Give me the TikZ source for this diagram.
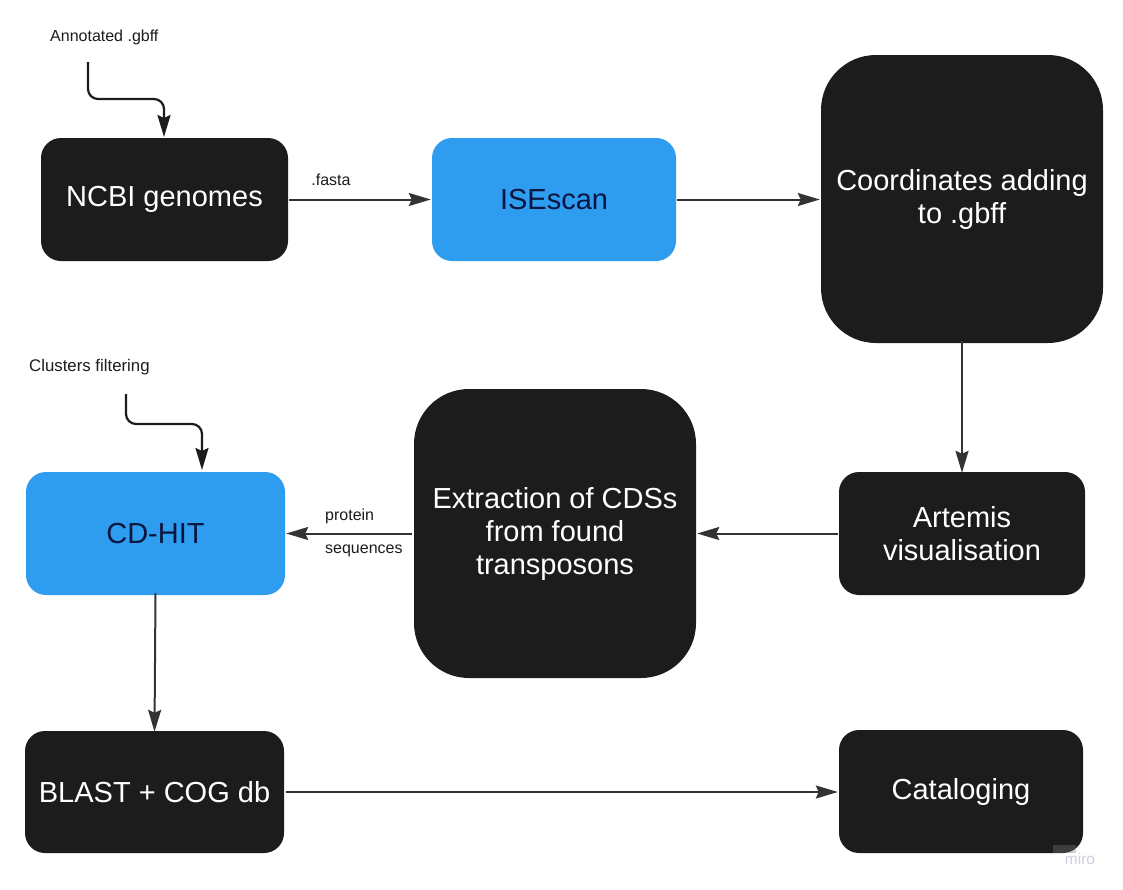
\documentclass[tikz,border=0pt]{standalone}
\usepackage{fontspec}
\setmainfont{Liberation Sans}
\usetikzlibrary{arrows.meta}
\definecolor{boxblack}{HTML}{1C1C1C}
\definecolor{boxblue}{HTML}{2E9CEF}
\definecolor{navytext}{HTML}{0B1640}
\definecolor{arrowgrey}{HTML}{333333}
\definecolor{mirogrey}{HTML}{CFCFDB}
\tikzset{
  blackbox/.style={fill=boxblack, text=white, rounded corners=20pt, inner sep=0pt,
    font=\fontsize{29}{33}\selectfont, align=center},
  bluebox/.style={fill=boxblue, text=navytext, rounded corners=20pt, inner sep=0pt,
    font=\fontsize{29}{33}\selectfont, align=center},
  bigbox/.style={blackbox, rounded corners=55pt},
  flow/.style={draw=arrowgrey, line width=2pt, -{Stealth[length=22pt,width=13pt,inset=3pt]}},
  feed/.style={draw=boxblack, line width=2.2pt, rounded corners=10pt, -{Stealth[length=22pt,width=13pt,inset=3pt]}},
  lbl/.style={font=\fontsize{16}{19}\selectfont, text=boxblack, inner sep=0pt}
}
\begin{document}
\begin{tikzpicture}[x=1pt,y=-1pt]
\useasboundingbox (0,0) rectangle (1123,889);
\fill[white] (0,0) rectangle (1123,889);
% boxes
\node[blackbox, minimum width=247pt, minimum height=123pt] (ncbi) at (164.5,199.5) {\raisebox{2pt}{NCBI genomes}};
\node[bluebox, minimum width=244pt, minimum height=123pt] (isescan) at (554,199.5) {ISEscan};
\node[bigbox, minimum width=282pt, minimum height=288pt] (coord) at (962,199) {Coordinates adding\\to .gbff};
\node[blackbox, minimum width=246pt, minimum height=123pt] (artemis) at (962,533.5) {Artemis\\visualisation};
\node[bigbox, minimum width=282pt, minimum height=289pt] (extract) at (555,533.5) {Extraction of CDSs\\from found\\transposons};
\node[bluebox, minimum width=259pt, minimum height=123pt] (cdhit) at (155.5,533.5) {CD-HIT};
\node[blackbox, minimum width=259pt, minimum height=122pt] (blast) at (154.5,792) {BLAST + COG db};
\node[blackbox, minimum width=244pt, minimum height=123pt] (catalog) at (961,791.5) {Cataloging};
% watermark
\fill[gray, opacity=0.35] (1053,845) rectangle (1076,853);
\node[font=\fontsize{15.5}{17}\selectfont, text=mirogrey, inner sep=0pt] (miro) at (1080,859) {miro};
% labels
\node[lbl, anchor=west] (annot) at (50,37) {Annotated .gbff};
\node[lbl, anchor=west, font=\fontsize{16.8}{19}\selectfont] (clusters) at (29,367) {Clusters filtering};
\node[lbl] (fasta) at (331,180) {.fasta};
\node[lbl, anchor=west] (protein) at (325,516) {protein};
\node[lbl, anchor=west] (sequences) at (325,551) {sequences};
% feed arrows
\coordinate (s1) at (88,62);
\coordinate (s2) at (126,394);
\draw[feed] (s1) -- (88,99) -- (164,99) -- (164,137);
\draw[feed] (s2) -- (126,424) -- (202,424) -- (202,470);
% flow arrows
\draw[flow] ([xshift=1pt]ncbi.east) -- ([xshift=-1pt]ncbi.east -| isescan.west);
\draw[flow] ([xshift=1pt]isescan.east) -- ([xshift=-1pt]isescan.east -| coord.west);
\draw[flow] ([yshift=2pt]coord.south) -- ([yshift=-1pt]artemis.north);
\draw[flow] ([xshift=-1pt]artemis.west) -- ([xshift=1pt]extract.east);
\draw[flow] ([xshift=-2pt]extract.west) -- ([xshift=1pt]cdhit.east);
\draw[flow] ([yshift=2pt]cdhit.south) -- ([yshift=-1pt]blast.north);
\draw[flow] ([xshift=2pt]blast.east) -- ([xshift=-1pt]blast.east -| catalog.west);
\end{tikzpicture}
\end{document}
